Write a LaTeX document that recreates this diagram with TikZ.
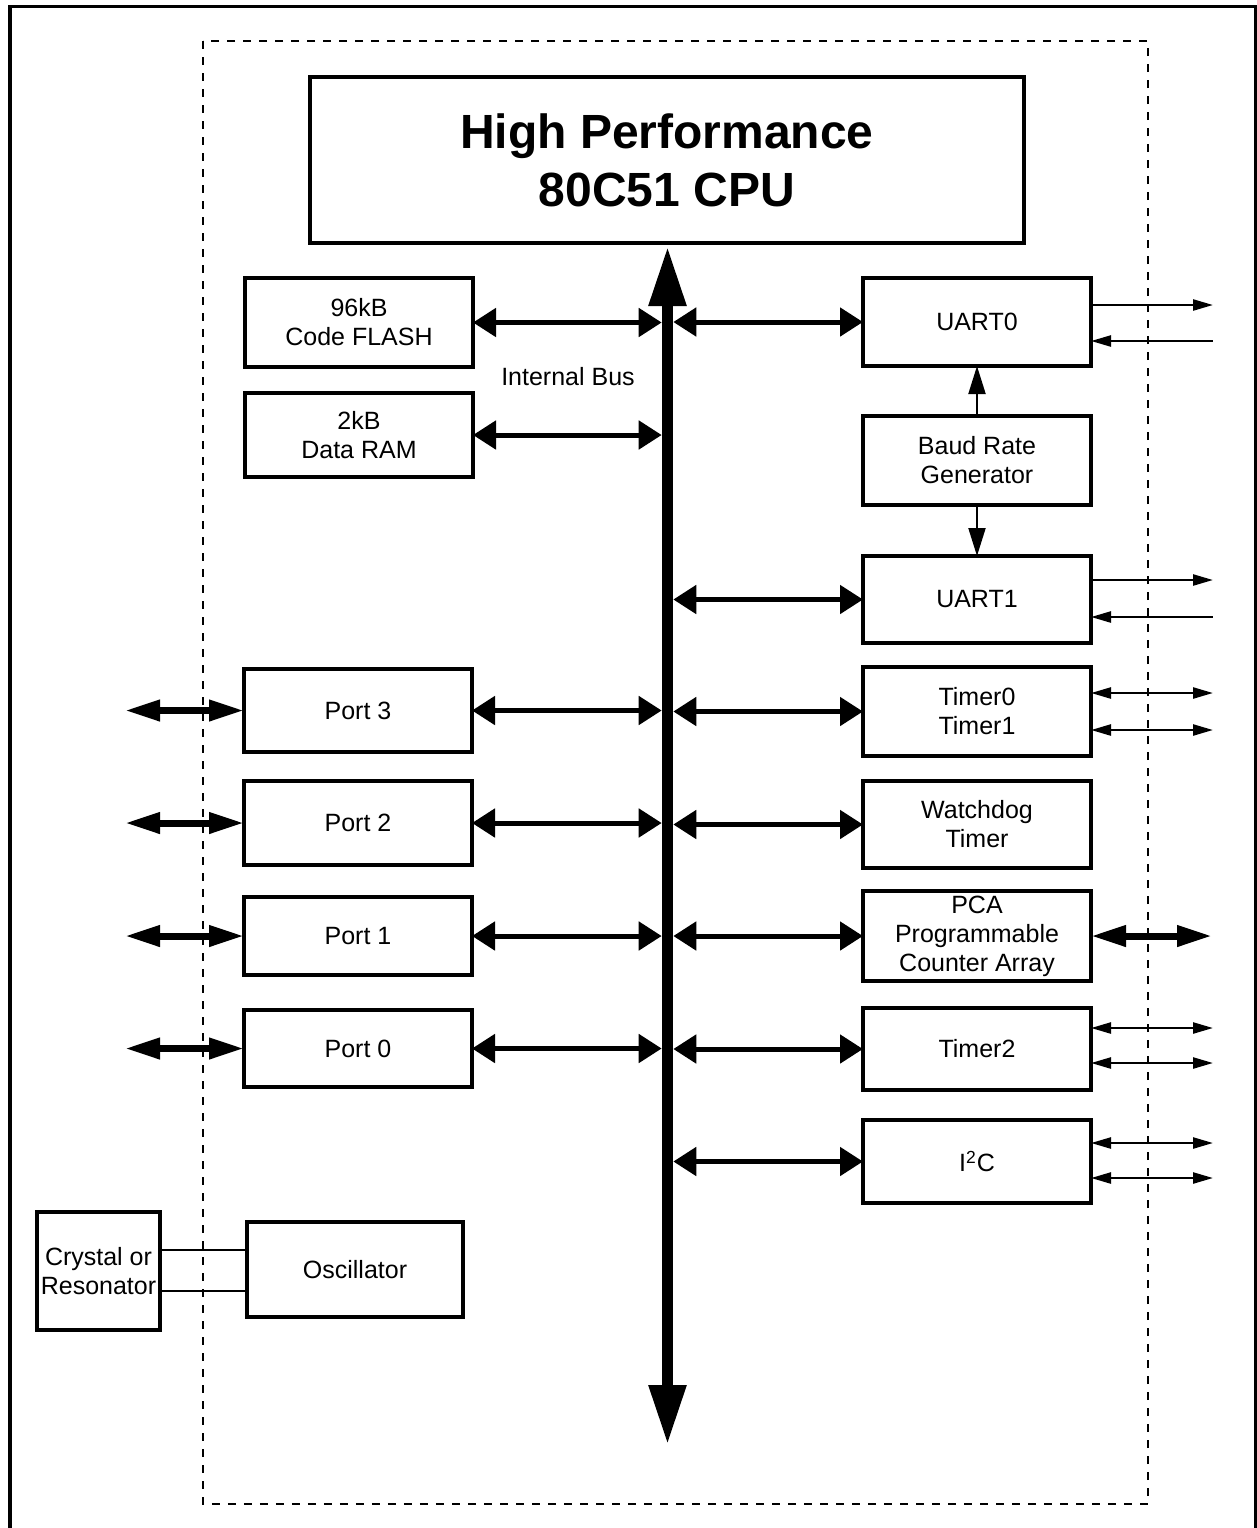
\documentclass[tikz,border=0pt]{standalone}
\usepackage{fontspec}
\setmainfont{Liberation Sans}
\usetikzlibrary{arrows.meta,calc}
\begin{document}
\begin{tikzpicture}[x=0.5pt,y=-0.5pt,
  blk/.style={draw,line width=1.6pt,inner sep=0pt,outer sep=0pt,align=center,
    font=\fontsize{12.5}{14.5}\selectfont,minimum width=114pt},
  busarrow/.style={line width=5.75pt,>={Triangle[length=30pt,width=17.5pt]},<->},
  link/.style={line width=2.5pt,>={Triangle[length=11.5pt,width=14pt]},<->},
  pins/.style={line width=3.5pt,>={Triangle[length=17.5pt,width=10pt]},<->},
  sig/.style={line width=1.2pt,>={Triangle[length=10pt,width=5.5pt]},->},
  sigback/.style={line width=1.2pt,>={Triangle[length=10pt,width=5.5pt]},<-},
  sigboth/.style={line width=1.2pt,>={Triangle[length=10pt,width=5.5pt]},<->},
  clk/.style={line width=1pt,>={Triangle[length=14pt,width=8.5pt]},->},
  wire/.style={line width=1pt}
]
\useasboundingbox (0,0) rectangle (1257,1528);

% outer frame and chip outline
\draw[line width=1.6pt] (10,1528) -- (10,6.5) -- (1255.5,6.5) -- (1255.5,1528);
\draw[line width=1pt,dash pattern=on 4pt off 4pt] (203,41) rectangle (1148,1504);

% CPU
\node[blk,minimum width=357pt,minimum height=83pt,
  font=\fontsize{24}{29}\selectfont\bfseries] (cpu) at (667,160) {High Performance\\80C51 CPU};

% left column
\node[blk,minimum height=44.5pt] (flash) at (359,322.5) {96kB\\Code FLASH};
\node[blk,minimum height=42pt] (ram) at (359,435) {2kB\\Data RAM};
\node[blk,minimum height=41.5pt] (p3) at (358,710.5) {Port 3};
\node[blk,minimum height=42pt] (p2) at (358,823) {Port 2};
\node[blk,minimum height=39pt] (p1) at (358,936) {Port 1};
\node[blk,minimum height=38.5pt] (p0) at (358,1048.5) {Port 0};
\node[blk,minimum width=61.5pt,minimum height=59pt] (xtal) at (98.5,1271) {Crystal or\\Resonator};
\node[blk,minimum width=108pt,minimum height=47.5pt] (osc) at (355,1269.5) {Oscillator};

% right column
\node[blk,minimum height=44pt] (uart0) at (977,322) {UART0};
\node[blk,minimum height=44.5pt] (baud) at (977,460.5) {Baud Rate\\Generator};
\node[blk,minimum height=43.5pt] (uart1) at (977,599.5) {UART1};
\node[blk,minimum height=44.5pt] (tmr01) at (977,711.5) {Timer0\\Timer1};
\node[blk,minimum height=43.5pt] (wdt) at (977,824.5) {Watchdog\\Timer};
\node[blk,minimum height=45pt] (pca) at (977,936) {PCA\\Programmable\\Counter Array};
\node[blk,minimum height=41pt] (tmr2) at (977,1049) {Timer2};
\node[blk,minimum height=41.5pt] (iic) at (977,1161.5) {I\textsuperscript{2}C};

\node[font=\fontsize{12.5}{14.5}\selectfont] (buslabel) at (568,377) {Internal Bus};

% internal bus
\coordinate (busT) at (667.5,246);
\coordinate (busB) at (667.5,1445);
\coordinate (busL) at (661.7,0);
\coordinate (busR) at (673.3,0);
\draw[busarrow] (busB) -- (busT);

\foreach \n in {flash,ram,p3,p2,p1,p0}
  \draw[link] (\n.east) -- (\n.east -| busL);
\foreach \n in {uart0,uart1,tmr01,wdt,pca,tmr2,iic}
  \draw[link] (\n.west -| busR) -- (\n.west);

% external pins
\coordinate (pinL) at (125,0);
\coordinate (pinR) at (1212,0);
\foreach \n in {p3,p2,p1,p0}
  \draw[pins] (\n.west -| pinL) -- (\n.west);
\draw[pins] (pca.east) -- (pca.east -| pinR);

% serial and timer signals
\coordinate (sigR) at (1213,0);
\coordinate (u0tx) at ($(uart0.east)+(0,-17)$);
\coordinate (u0rx) at ($(uart0.east)+(0,19)$);
\coordinate (u1tx) at ($(uart1.east)+(0,-19.5)$);
\coordinate (u1rx) at ($(uart1.east)+(0,17.5)$);
\coordinate (t0io) at ($(tmr01.east)+(0,-18.5)$);
\coordinate (t1io) at ($(tmr01.east)+(0,18.5)$);
\coordinate (t2a) at ($(tmr2.east)+(0,-21)$);
\coordinate (t2b) at ($(tmr2.east)+(0,14)$);
\coordinate (sda) at ($(iic.east)+(0,-18.5)$);
\coordinate (scl) at ($(iic.east)+(0,16.5)$);
\draw[sig] (u0tx) -- (u0tx -| sigR);
\draw[sigback] (u0rx) -- (u0rx -| sigR);
\draw[sig] (u1tx) -- (u1tx -| sigR);
\draw[sigback] (u1rx) -- (u1rx -| sigR);
\foreach \c in {t0io,t1io,t2a,t2b,sda,scl}
  \draw[sigboth] (\c) -- (\c -| sigR);

% baud rate clock
\draw[clk] (baud.north) -- (uart0.south);
\draw[clk] (baud.south) -- (uart1.north);

% crystal connections
\draw[wire] ($(xtal.east)+(0,-21)$) -- ($(osc.west)+(0,-19.5)$);
\draw[wire] ($(xtal.east)+(0,20)$) -- ($(osc.west)+(0,21.5)$);
\end{tikzpicture}
\end{document}
